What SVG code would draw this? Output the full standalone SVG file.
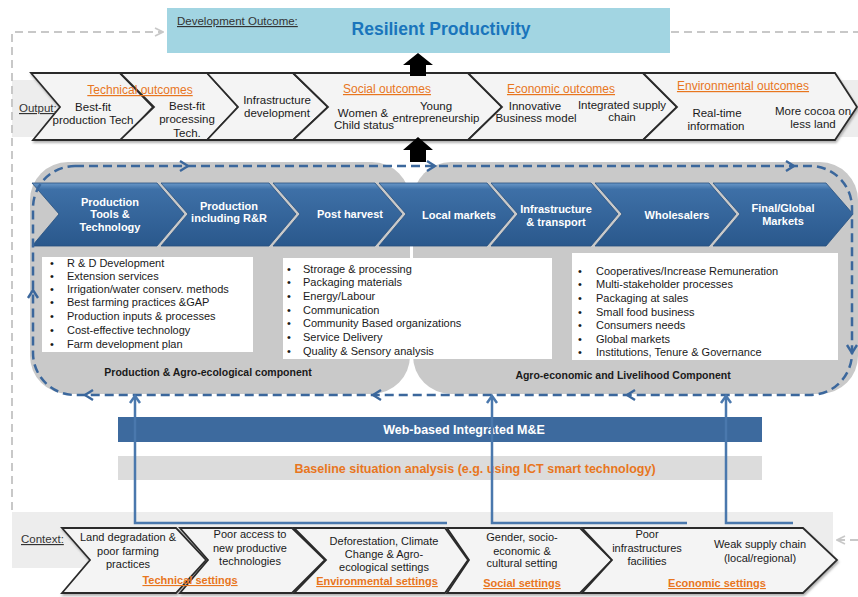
<svg xmlns="http://www.w3.org/2000/svg" width="858" height="597" viewBox="0 0 858 597">
  <defs>
    <linearGradient id="blueChev" x1="0" y1="0" x2="0" y2="1">
      <stop offset="0" stop-color="#6a98c8"/>
      <stop offset="0.1" stop-color="#3e70a7"/>
      <stop offset="1" stop-color="#2a588c"/>
    </linearGradient>
    <filter id="shadow" x="-5%" y="-10%" width="110%" height="130%">
      <feDropShadow dx="1" dy="2" stdDeviation="1.2" flood-color="#808080" flood-opacity="0.6"/>
    </filter>
    <marker id="openRight" viewBox="0 0 10 10" refX="9" refY="5" markerWidth="10" markerHeight="10" markerUnits="userSpaceOnUse" orient="auto">
      <path d="M1,1 L9,5 L1,9" fill="none" stroke="#c8c8c8" stroke-width="1.6"/>
    </marker>
  </defs>
  <style>
    text { font-family: "Liberation Sans", Arial, sans-serif; fill: #1a1a1a; }
    .out { font-size: 11.5px; text-anchor: middle; }
    .ctx { font-size: 11px; text-anchor: middle; }
    .lbl { font-size: 11.5px; text-decoration: underline; fill: #333; }
    .orange { fill: #e8761e; text-decoration: underline; text-anchor: middle; }
    .wchev { fill: #f4f4f4; stroke: #2b2b2b; stroke-width: 1.8; stroke-linejoin: miter; }
    .bchev { fill: url(#blueChev); stroke: #264f7e; stroke-width: 0.8; }
    .btxt { font-size: 11px; font-weight: bold; fill: #ffffff; text-anchor: middle; }
    .bul { font-size: 11px; }
    .box { fill: #ffffff; }
    .comp { font-size: 10.5px; font-weight: bold; text-anchor: middle; }
    .dash { fill: none; stroke: #3b679c; stroke-width: 2.5; stroke-dasharray: 9 5; }
    .head { fill: none; stroke: #3b679c; stroke-width: 2.4; }
    .feed { fill: none; stroke: #4a78ad; stroke-width: 2.5; }
    .gray { fill: none; stroke: #c8c8c8; stroke-width: 2; stroke-dasharray: 8 5; }
    .block { fill: #000000; }
  </style>

  <rect width="858" height="597" fill="#ffffff"/>

  <!-- development outcome -->
  <g id="outcome">
    <rect x="167" y="8" width="503" height="45" fill="#a2d5e2"/>
    <text class="lbl" x="177" y="25">Development Outcome:</text>
    <text x="441" y="35" font-size="17.5" font-weight="bold" text-anchor="middle" style="fill:#1a75bc">Resilient Productivity</text>
  </g>

  <!-- output band -->
  <g id="outputs">
    <rect x="12" y="80" width="846" height="57" fill="#ededed"/>
    <text class="lbl" x="19" y="112">Output:</text>
    <g filter="url(#shadow)">
      <polygon class="wchev" points="31,73 60,107 33,140 122,140 153,107 120,73"/>
      <polygon class="wchev" points="120,73 154,107 120,140 207,140 238,107 207,73"/>
      <polygon class="wchev" points="207,73 238,107 207,140 293,140 328,107 293,73"/>
      <polygon class="wchev" points="293,73 328,107 293,140 468,140 502,107 468,73"/>
      <polygon class="wchev" points="468,73 502,107 468,140 643,140 677,107 643,73"/>
      <polygon class="wchev" points="643,73 677,107 643,140 835,140 857,107 835,73"/>
    </g>
    <text class="orange" x="140" y="94" font-size="12">Technical outcomes</text>
    <text class="out" x="93" y="111">Best-fit</text>
    <text class="out" x="93" y="124">production Tech</text>
    <text class="out" x="187" y="110">Best-fit</text>
    <text class="out" x="187" y="123">processing</text>
    <text class="out" x="187" y="137">Tech.</text>
    <text class="out" x="277" y="104">Infrastructure</text>
    <text class="out" x="277" y="117">development</text>
    <text class="orange" x="387" y="93" font-size="12">Social outcomes</text>
    <text class="out" x="363" y="117">Women &amp;</text>
    <text class="out" x="364" y="129">Child status</text>
    <text class="out" x="436" y="110">Young</text>
    <text class="out" x="436" y="122">entrepreneurship</text>
    <text class="orange" x="561" y="93" font-size="12">Economic  outcomes</text>
    <text class="out" x="535" y="110">Innovative</text>
    <text class="out" x="536" y="122">Business model</text>
    <text class="out" x="622" y="109">Integrated supply</text>
    <text class="out" x="622" y="121">chain</text>
    <text class="orange" x="743" y="90" font-size="12">Environmental  outcomes</text>
    <text class="out" x="717" y="117">Real-time</text>
    <text class="out" x="716" y="130">information</text>
    <text class="out" x="813" y="115">More cocoa on</text>
    <text class="out" x="813" y="128">less land</text>
  </g>

  <!-- value chain components -->
  <g id="component-production">
    <rect x="30" y="162" width="380" height="232" rx="38" fill="#c9c9c9"/>
  </g>
  <g id="component-agroeconomic">
    <rect x="413" y="162" width="445" height="232" rx="38" fill="#c9c9c9"/>
  </g>

  <!-- upward block arrows -->
  <g id="arrow-up-top">
    <polygon class="block" points="418,53 433,65 426,65 426,76 410,76 410,65 403,65"/>
  </g>
  <g id="arrow-up-mid">
    <polygon class="block" points="418,137 433,150 426,150 426,162 410,162 410,150 403,150"/>
  </g>

  <!-- value chain steps -->
  <g id="chain">
    <g id="step-tools">
      <polygon class="bchev" points="32,183 59,214 32,246 157,246 184,214 157,183"/>
      <text class="btxt" x="110" y="206">Production</text>
      <text class="btxt" x="110" y="218">Tools &amp;</text>
      <text class="btxt" x="110" y="231">Technology</text>
    </g>
    <g id="step-production">
      <polygon class="bchev" points="161,183 188,214 161,246 269,246 296,214 269,183"/>
      <text class="btxt" x="229" y="210">Production</text>
      <text class="btxt" x="229" y="222">including  R&amp;R</text>
    </g>
    <g id="step-postharvest">
      <polygon class="bchev" points="273,183 300,214 273,246 375,246 402,214 375,183"/>
      <text class="btxt" x="350" y="218">Post harvest</text>
    </g>
    <g id="step-local">
      <polygon class="bchev" points="379,183 406,214 379,246 487,246 514,214 487,183"/>
      <text class="btxt" x="459" y="219">Local markets</text>
    </g>
    <g id="step-infrastructure">
      <polygon class="bchev" points="491,183 518,214 491,246 591,246 618,214 591,183"/>
      <text class="btxt" x="556" y="213">Infrastructure</text>
      <text class="btxt" x="556" y="226">&amp; transport</text>
    </g>
    <g id="step-wholesalers">
      <polygon class="bchev" points="595,183 622,214 595,246 709,246 736,214 709,183"/>
      <text class="btxt" x="677" y="219">Wholesalers</text>
    </g>
    <g id="step-final">
      <polygon class="bchev" points="713,183 740,214 713,246 826,246 853,214 826,183"/>
      <text class="btxt" x="783" y="212">Final/Global</text>
      <text class="btxt" x="783" y="225">Markets</text>
    </g>
  </g>

  <!-- activity lists -->
  <g id="list-production">
    <rect class="box" x="42" y="257" width="211" height="95"/>
    <g class="bul">
      <text x="50" y="267">•</text><text x="67" y="267">R &amp; D Development</text>
      <text x="50" y="280">•</text><text x="67" y="280">Extension services</text>
      <text x="50" y="293">•</text><text x="67" y="293">Irrigation/water conserv. methods</text>
      <text x="50" y="306">•</text><text x="67" y="306">Best  farming practices &amp;GAP</text>
      <text x="50" y="320">•</text><text x="67" y="320">Production inputs &amp; processes</text>
      <text x="50" y="334">•</text><text x="67" y="334">Cost-effective technology</text>
      <text x="50" y="348">•</text><text x="67" y="348">Farm development plan</text>
    </g>
  </g>
  <g id="list-postharvest">
    <rect class="box" x="283" y="258" width="269" height="101"/>
    <g class="bul">
      <text x="287" y="273">•</text><text x="303" y="273">Strorage &amp; processing</text>
      <text x="287" y="286">•</text><text x="303" y="286">Packaging materials</text>
      <text x="287" y="300">•</text><text x="303" y="300">Energy/Labour</text>
      <text x="287" y="314">•</text><text x="303" y="314">Communication</text>
      <text x="287" y="327">•</text><text x="303" y="327">Community Based organizations</text>
      <text x="287" y="341">•</text><text x="303" y="341">Service Delivery</text>
      <text x="287" y="355">•</text><text x="303" y="355">Quality &amp; Sensory analysis</text>
    </g>
  </g>
  <g id="list-markets">
    <rect class="box" x="572" y="253" width="266" height="107"/>
    <g class="bul">
      <text x="578" y="275">•</text><text x="596" y="275">Cooperatives/Increase Remuneration</text>
      <text x="578" y="288">•</text><text x="596" y="288">Multi-stakeholder processes</text>
      <text x="578" y="302">•</text><text x="596" y="302">Packaging at sales</text>
      <text x="578" y="316">•</text><text x="596" y="316">Small food business</text>
      <text x="578" y="329">•</text><text x="596" y="329">Consumers needs</text>
      <text x="578" y="343">•</text><text x="596" y="343">Global markets</text>
      <text x="578" y="356">•</text><text x="596" y="356">Institutions, Tenure &amp; Governance</text>
    </g>
  </g>
  <text class="comp" x="208" y="376">Production  &amp; Agro-ecological component</text>
  <text class="comp" x="623" y="379">Agro-economic and Livelihood  Component</text>

  <!-- monitoring bars -->
  <g id="monitoring">
    <rect x="118" y="417" width="644" height="25" fill="#3d6a9e"/>
    <text x="464" y="434" font-size="12.5" font-weight="bold" text-anchor="middle" style="fill:#ffffff">Web-based Integrated M&amp;E</text>
  </g>
  <g id="baseline">
    <rect x="118" y="456" width="644" height="24" fill="#dcdcdc"/>
    <text x="475" y="473" font-size="12.5" font-weight="bold" text-anchor="middle" style="fill:#e8761e">Baseline situation analysis (e.g. using ICT smart technology)</text>
  </g>

  <!-- context band -->
  <g id="context">
    <rect x="12" y="512" width="821" height="56" fill="#ededed"/>
    <text class="lbl" x="21" y="543" font-size="11">Context:</text>
    <g filter="url(#shadow)">
      <polygon class="wchev" points="62,528 90,560 62,593 176,593 206,560 176,528"/>
      <polygon class="wchev" points="180,528 208,560 180,593 292,593 325,560 292,528"/>
      <polygon class="wchev" points="294,528 326,560 294,593 445,593 468,560 445,528"/>
      <polygon class="wchev" points="447,528 469,560 447,593 580,593 612,560 580,528"/>
      <polygon class="wchev" points="582,528 612,560 582,593 803,593 837,560 803,528"/>
    </g>
    <text class="ctx" x="128" y="541">Land degradation &amp;</text>
    <text class="ctx" x="128" y="555">poor farming</text>
    <text class="ctx" x="128" y="568">practices</text>
    <text class="ctx" x="250" y="538">Poor access to</text>
    <text class="ctx" x="250" y="552">new productive</text>
    <text class="ctx" x="250" y="565">technologies</text>
    <text class="ctx" x="384" y="545">Deforestation, Climate</text>
    <text class="ctx" x="384" y="558">Change &amp; Agro-</text>
    <text class="ctx" x="384" y="571">ecological settings</text>
    <text class="ctx" x="522" y="541">Gender, socio-</text>
    <text class="ctx" x="522" y="555">economic &amp;</text>
    <text class="ctx" x="522" y="567">cultural setting</text>
    <text class="ctx" x="647" y="538">Poor</text>
    <text class="ctx" x="647" y="552">infrastructures</text>
    <text class="ctx" x="647" y="565">facilities</text>
    <text class="ctx" x="760" y="548">Weak supply chain</text>
    <text class="ctx" x="760" y="562">(local/regional)</text>
    <text class="orange" x="190" y="584" font-size="11" font-weight="bold">Technical  settings</text>
    <text class="orange" x="377" y="585" font-size="11" font-weight="bold">Environmental  settings</text>
    <text class="orange" x="522" y="587" font-size="11" font-weight="bold">Social  settings</text>
    <text class="orange" x="717" y="587" font-size="11" font-weight="bold">Economic  settings</text>
  </g>

  <!-- connectors -->
  <g id="connectors">
    <!-- context to outcome loop -->
    <path class="gray" d="M12,510 V32 H163" marker-end="url(#openRight)"/>
    <path class="gray" d="M671,32 H858"/>
    <path class="gray" d="M858,540 H837" marker-end="url(#openRight)"/>
    <!-- value chain cycle -->
    <rect class="dash" x="33" y="166" width="819" height="229" rx="42"/>
    <path class="head" d="M180,161 L188,166 L180,171"/>
    <path class="head" d="M427,161 L435,166 L427,171"/>
    <path class="head" d="M786,161 L794,166 L786,171"/>
    <path class="head" d="M847,345 L852,353 L857,345"/>
    <path class="head" d="M635,390 L627,395 L635,400"/>
    <path class="head" d="M381,390 L373,395 L381,400"/>
    <path class="head" d="M93,390 L85,395 L93,400"/>
    <path class="head" d="M28,298 L33,290 L38,298"/>
    <!-- feedback from context -->
    <path class="feed" d="M135,396 V523 H447"/>
    <path class="feed" d="M492,396 V523 H687"/>
    <path class="feed" d="M726,396 V523 H793"/>
    <path class="feed" d="M130,403 L135,396 L140,403"/>
    <path class="feed" d="M487,403 L492,396 L497,403"/>
    <path class="feed" d="M721,403 L726,396 L731,403"/>
  </g>
</svg>
